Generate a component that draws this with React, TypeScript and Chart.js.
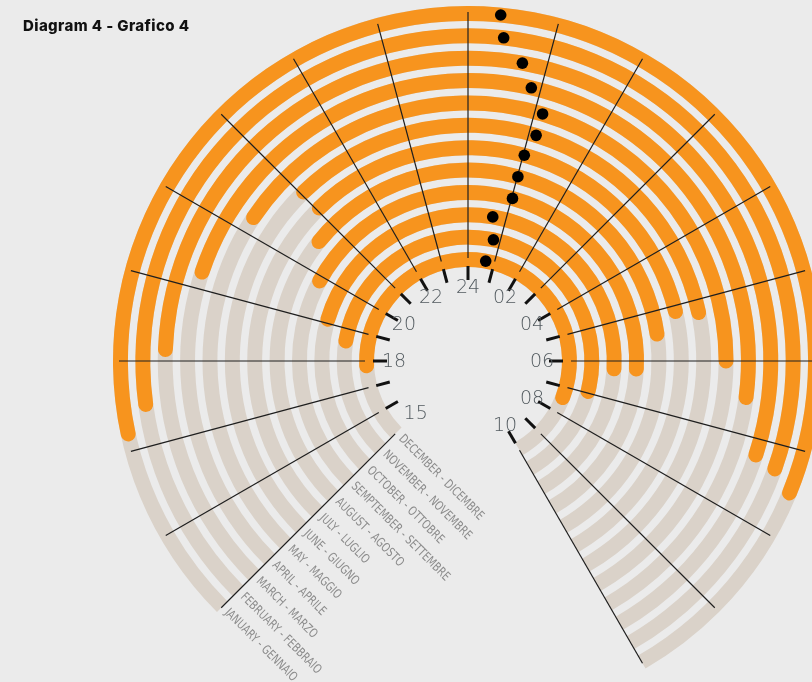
import React, { useEffect, useRef } from 'react';
import { Chart, registerables } from 'chart.js';

Chart.register(...registerables);

// Months: outermost ring = January, innermost = December
const MONTHS = [
  'JANUARY - GENNAIO',
  'FEBRUARY - FEBBRAIO',
  'MARCH - MARZO',
  'APRIL - APRILE',
  'MAY - MAGGIO',
  'JUNE - GIUGNO',
  'JULY - LUGLIO',
  'AUGUST - AGOSTO',
  'SEMPTEMBER - SETTEMBRE',
  'OCTOBER - OTTOBRE',
  'NOVEMBER - NOVEMBRE',
  'DECEMBER - DICEMBRE',
];

// Night start (sunset) and night end (sunrise), in hours of the day
const NIGHT_START = [17.11, 17.4, 18.05, 19.13, 20.14, 20.93, 20.92, 20.43, 19.72, 18.91, 18.39, 17.54];
const NIGHT_END = [7.57, 7.38, 7.3, 6.6, 6.11, 5.33, 5.24, 5.61, 6.35, 6.4, 7.18, 7.69];
// Middle of the night (black dots), hours after midnight
const MID_NIGHT = [0.36, 0.42, 0.69, 0.87, 1.12, 1.12, 1.02, 1.01, 1.02, 0.65, 0.79, 0.67];

// Dial: hidden sector from 10h to 15h
const DIAL_FROM = 10;
const DIAL_TO = 15;
const HOUR_LABELS = ['15', '18', '20', '22', '24', '02', '04', '06', '08', '10'];
const HOUR_LABEL_VALUES = [15, 18, 20, 22, 24, 2, 4, 6, 8, 10];
const LINE_HOURS = [15, 16, 17, 18, 19, 20, 21, 22, 23, 24, 1, 2, 3, 4, 5, 6, 7, 8, 9, 10];
const TICK_HOURS = [16, 17, 18, 19, 20, 21, 22, 23, 24, 1, 2, 3, 4, 5, 6, 7, 8, 9, 10];

const SEGMENT_LABELS = ['not shown', 'day (evening)', 'night', 'day (morning)'];

const BG = '#ebebeb';
const ORANGE = '#f7941e';
const TRACK = '#dad2c9';
const CLEAR = 'rgba(0,0,0,0)';

function ringMetas(chart: any) {
  return chart.data.datasets
    .map((ds: any, i: number) => ({ ds, meta: chart.getDatasetMeta(i), i }))
    .filter((o: any) => !o.ds.spacer);
}

function hourAngle(start10: number, h: number) {
  const rel = (((h - DIAL_FROM) % 24) + 24) % 24;
  return start10 + (rel / 24) * Math.PI * 2;
}

const dialPlugin = {
  id: 'dial',
  beforeDatasetsDraw(chart: any) {
    const ctx = chart.ctx;
    ctx.save();
    ringMetas(chart).forEach(({ meta }: any) => {
      const a = meta.data[0];
      const { x, y, startAngle, endAngle, innerRadius, outerRadius } = a.getProps(
        ['x', 'y', 'startAngle', 'endAngle', 'innerRadius', 'outerRadius'],
        true
      );
      ctx.beginPath();
      ctx.arc(x, y, outerRadius, endAngle, startAngle + Math.PI * 2);
      ctx.arc(x, y, innerRadius, startAngle + Math.PI * 2, endAngle, true);
      ctx.closePath();
      ctx.fillStyle = TRACK;
      ctx.fill();
    });
    ctx.restore();
  },
  afterDatasetsDraw(chart: any) {
    const ctx = chart.ctx;
    const rings = ringMetas(chart);
    if (!rings.length) return;
    const first = rings[0].meta.data[0].getProps(['x', 'y', 'startAngle', 'outerRadius'], true);
    const last = rings[rings.length - 1].meta.data[0].getProps(['innerRadius'], true);
    const cx = first.x;
    const cy = first.y;
    const s10 = first.startAngle;
    const rOut = first.outerRadius;
    const rIn = last.innerRadius;
    ctx.save();
    // long thin hour lines
    ctx.strokeStyle = '#1e1e1e';
    ctx.lineWidth = 1.2;
    LINE_HOURS.forEach((h) => {
      const a = hourAngle(s10, h);
      ctx.beginPath();
      ctx.moveTo(cx + Math.cos(a) * (rIn + 9), cy + Math.sin(a) * (rIn + 9));
      ctx.lineTo(cx + Math.cos(a) * (rOut - 6), cy + Math.sin(a) * (rOut - 6));
      ctx.stroke();
    });
    // thick short ticks
    ctx.lineWidth = 3;
    ctx.strokeStyle = '#111';
    TICK_HOURS.forEach((h) => {
      const a = hourAngle(s10, h);
      ctx.beginPath();
      ctx.moveTo(cx + Math.cos(a) * (rIn - 13), cy + Math.sin(a) * (rIn - 13));
      ctx.lineTo(cx + Math.cos(a) * (rIn + 1), cy + Math.sin(a) * (rIn + 1));
      ctx.stroke();
    });
    // hour labels
    ctx.fillStyle = '#525a5f';
    ctx.font = "300 19px 'DejaVu Sans', sans-serif";
    ctx.textAlign = 'center';
    ctx.textBaseline = 'middle';
    HOUR_LABEL_VALUES.forEach((h, i) => {
      const a = hourAngle(s10, h);
      ctx.fillText(HOUR_LABELS[i], cx + Math.cos(a) * (rIn - 20), cy + Math.sin(a) * (rIn - 20) + 1);
    });
    // dots and month labels
    const a15 = hourAngle(s10, DIAL_TO);
    rings.forEach(({ meta, ds }: any, k: number) => {
      const p = meta.data[0].getProps(['innerRadius', 'outerRadius'], true);
      const rm = (p.innerRadius + p.outerRadius) / 2;
      const a = hourAngle(s10, MID_NIGHT[k]);
      ctx.beginPath();
      ctx.arc(cx + Math.cos(a) * rm, cy + Math.sin(a) * rm, 5.8, 0, Math.PI * 2);
      ctx.fillStyle = '#000';
      ctx.fill();

      ctx.save();
      ctx.translate(cx + Math.cos(a15) * rm, cy + Math.sin(a15) * rm);
      ctx.rotate(a15 - Math.PI / 2);
      ctx.scale(0.86, 1);
      ctx.fillStyle = '#8c8c8c';
      ctx.font = "12.5px 'Liberation Sans Narrow', 'DejaVu Sans Condensed', 'Roboto Condensed', sans-serif";
      ctx.textAlign = 'left';
      ctx.textBaseline = 'middle';
      ctx.fillText(ds.label, 7, 0);
      ctx.restore();
    });
    ctx.restore();
  },
};

export default function App() {
  const canvasRef = useRef<HTMLCanvasElement | null>(null);

  useEffect(() => {
    if (!canvasRef.current) return;
    const datasets: any[] = [];
    MONTHS.forEach((m, i) => {
      const gap = DIAL_TO - DIAL_FROM;
      const eveningDay = NIGHT_START[i] - DIAL_TO;
      const night = 24 - NIGHT_START[i] + NIGHT_END[i];
      const morningDay = DIAL_FROM - NIGHT_END[i];
      datasets.push({
        label: m,
        data: [gap, eveningDay, night, morningDay],
        backgroundColor: [CLEAR, CLEAR, ORANGE, CLEAR],
        borderRadius: [0, 0, 8, 0],
        borderWidth: 0,
        weight: 2,
      });
      if (i < MONTHS.length - 1) {
        datasets.push({
          label: 'spacer',
          spacer: true,
          data: [1],
          backgroundColor: CLEAR,
          borderWidth: 0,
          weight: 1,
        });
      }
    });

    const chart = new Chart(canvasRef.current, {
      type: 'doughnut',
      data: { labels: SEGMENT_LABELS, datasets },
      options: {
        responsive: true,
        maintainAspectRatio: false,
        animation: false,
        events: [],
        radius: 355,
        cutout: '26.48%',
        rotation: DIAL_FROM * 15,
        circumference: 360,
        layout: { padding: 0 },
        plugins: {
          legend: { display: false },
          tooltip: { enabled: false },
          title: { display: false },
        },
      } as any,
      plugins: [dialPlugin as any],
    });
    return () => chart.destroy();
  }, []);

  return (
    <div
      style={{
        position: 'fixed',
        left: 0,
        top: 0,
        width: 812,
        height: 682,
        overflow: 'hidden',
        background: BG,
      }}
    >
      <div style={{ position: 'absolute', left: 0, top: 0, width: 936, height: 722 }}>
        <canvas ref={canvasRef} />
      </div>
      <div
        style={{
          position: 'absolute',
          left: 23,
          top: 17,
          fontFamily: "Inter, 'Open Sans', sans-serif",
          fontWeight: 800,
          fontSize: 15,
          lineHeight: '18px',
          color: '#111',
          letterSpacing: '0.4px',
        }}
      >
        Diagram 4 - Grafico 4
      </div>
    </div>
  );
}
